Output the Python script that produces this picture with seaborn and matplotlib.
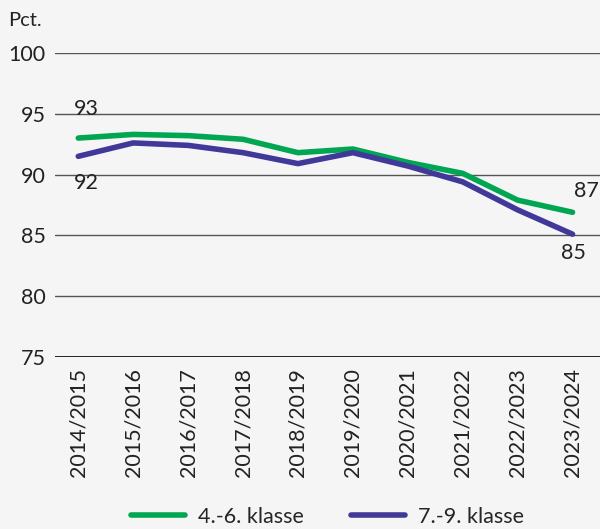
import matplotlib
matplotlib.use("Agg")
import matplotlib.pyplot as plt
import seaborn as sns
import pandas as pd

# data
years = ["2014/2015", "2015/2016", "2016/2017", "2017/2018", "2018/2019",
         "2019/2020", "2020/2021", "2021/2022", "2022/2023", "2023/2024"]
klasse_4_6 = [93.0, 93.3, 93.2, 92.9, 91.8, 92.1, 91.0, 90.1, 87.9, 86.9]
klasse_7_9 = [91.5, 92.6, 92.4, 91.8, 90.9, 91.8, 90.7, 89.4, 87.1, 85.1]
series_names = ["4.-6. klasse", "7.-9. klasse"]
y_ticks = [75, 80, 85, 90, 95, 100]

BG = "#f5f5f5"
colors = {"4.-6. klasse": "#00a651", "7.-9. klasse": "#41399a"}
FS = 15.5


def main():
    df = pd.concat([
        pd.DataFrame({"År": years, "Pct": klasse_4_6, "Klasse": series_names[0]}),
        pd.DataFrame({"År": years, "Pct": klasse_7_9, "Klasse": series_names[1]}),
    ])

    sns.set_style("white")
    plt.rcParams["font.family"] = ["Lato", "DejaVu Sans"]

    fig = plt.figure(figsize=(6, 5.29), dpi=100, facecolor=BG)
    ax = fig.add_axes([0.092, 0.325, 0.908, 0.575])
    ax.set_facecolor(BG)

    sns.lineplot(data=df, x="År", y="Pct", hue="Klasse", palette=colors,
                 linewidth=4, sort=False, ax=ax, zorder=3)

    ax.set_ylim(75, 100)
    ax.set_xlim(-0.42, 9.5)
    ax.set_yticks(y_ticks)
    for t in y_ticks:
        ax.axhline(t, color="#111111" if t == 75 else "#555555",
                   lw=1.3 if t == 75 else 1.0, zorder=1)
    for s in ax.spines.values():
        s.set_visible(False)
    ax.tick_params(axis="both", length=0, labelsize=FS, colors="#222222")
    ax.tick_params(axis="y", pad=7)
    ax.tick_params(axis="x", pad=8)
    plt.setp(ax.get_xticklabels(), rotation=90)
    ax.set_xlabel("")
    ax.set_ylabel("")

    # end-point labels
    lab = dict(fontsize=FS, color="#222222", ha="center")
    ax.annotate(f"{klasse_4_6[0]:.0f}", (0, klasse_4_6[0]), xytext=(6, 14),
                textcoords="offset points", va="bottom", **lab)
    ax.annotate(f"{klasse_7_9[0]:.0f}", (0, klasse_7_9[0]), xytext=(6, -12),
                textcoords="offset points", va="top", **lab)
    ax.annotate(f"{klasse_4_6[-1]:.0f}", (9, klasse_4_6[-1]), xytext=(10, 8),
                textcoords="offset points", va="bottom", **lab)
    ax.annotate(f"{klasse_7_9[-1]:.0f}", (9, klasse_7_9[-1]), xytext=(1, -6),
                textcoords="offset points", va="top", **lab)

    fig.text(0.013, 0.962, "Pct.", fontsize=FS - 1, color="#222222", va="center")

    ax.legend(loc="center", bbox_to_anchor=(0.5, -0.525), ncol=2,
              frameon=False, fontsize=FS, handlelength=2.5, handletextpad=0.6,
              columnspacing=2.2, title=None)
    for h in ax.get_legend().get_lines():
        h.set_linewidth(4)

    fig.savefig("out.png", dpi=100, facecolor=BG)


if __name__ == "__main__":
    main()
